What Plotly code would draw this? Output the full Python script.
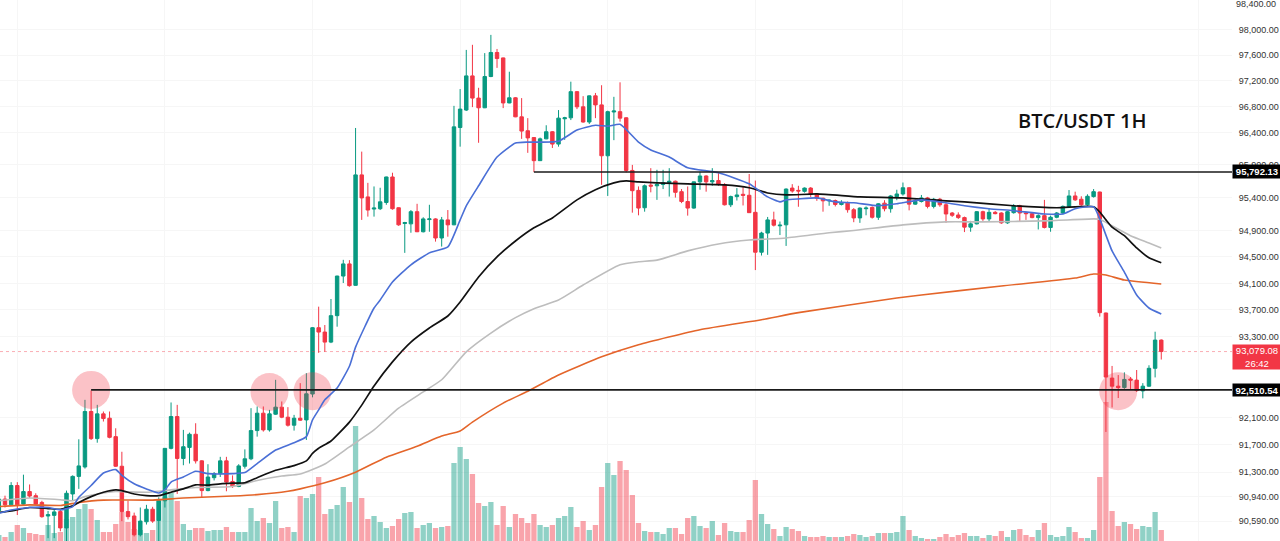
import math
import plotly.graph_objects as go

opens = [90737,90909,90825,91106,90835,91018,90958,90860,90663,90672,90727,90490,90983,91239,91377,92191,91792,92156,92092,91821,
91387,90727,90663,90391,90579,90761,90599,90884,91649,92117,91501,91663,91856,91466,91032,91220,91279,91466,91165,91091,
91387,91496,91910,92166,91920,92151,92255,92107,91989,92092,92067,92449,93435,93370,93220,93615,94210,94393,94070,95747,
95410,95225,95230,95325,95715,95245,95005,95000,95185,94880,95065,95075,94785,95060,94985,96475,96745,97275,96930,96780,
97265,97640,97555,96855,96935,96640,96425,96320,95965,96300,96410,96220,96610,96625,97030,96795,96560,96965,96825,96040,
96715,96720,96625,95815,95510,95245,95590,95580,95600,95630,95650,95490,95340,95240,95640,95730,95640,95660,95600,95290,
95415,95450,95435,95175,94570,94860,95060,94970,94985,95545,95510,95495,95545,95455,95390,95350,95355,95295,95315,95215,
95090,95230,95250,95100,95315,95230,95415,95455,95550,95300,95340,95395,95265,95375,95290,95165,95135,95095,94950,95000,
95185,95075,95175,95165,95015,95170,95275,95165,95155,95095,95125,94945,95100,95165,95265,95425,95375,95290,95415,95485,
93655,92685,92565,92545,92670,92655,92495,92565,92830,93250]
highs = [90934,90958,91155,91155,91264,91121,90993,90884,90736,90761,90761,91032,91254,91782,92363,92501,92289,92191,92191,91944,
91599,90884,90712,90786,90825,90796,90934,91649,92324,92289,91920,91880,92018,91476,91417,91303,91525,91525,91254,91417,
91634,92240,92265,92265,92215,92659,92339,92255,92141,92610,92758,93445,93750,93475,93865,94215,94455,94450,96468,96104,
95625,95570,95550,95720,95780,95250,95030,95210,95305,95100,95290,95085,95105,95210,96810,97070,97680,97760,97090,97630,
97915,97695,97560,97340,96945,96930,96620,96325,96320,96510,96420,96745,96640,97185,97040,96960,96970,97010,97130,96735,
96950,97175,96635,95900,95570,95600,95850,95825,95825,95850,95660,95530,95570,95645,95795,95740,95850,95775,95620,95430,
95545,95560,95760,95660,94880,95105,95185,95035,95540,95605,95580,95555,95560,95470,95400,95370,95370,95360,95340,95240,
95250,95265,95265,95315,95360,95440,95520,95630,95560,95370,95440,95410,95395,95395,95315,95180,95175,95110,95045,95195,
95200,95235,95195,95175,95195,95300,95290,95185,95180,95145,95365,95125,95180,95280,95515,95490,95420,95450,95530,95490,
93660,92865,92730,92770,92700,92805,92610,92875,93375,93260]
lows = [90712,90786,90810,90677,90825,90924,90820,90638,90342,90342,90441,90293,90884,91057,91353,91772,91732,92043,91796,91377,
90589,90613,90367,90367,90539,90564,90293,90786,91634,90983,91402,91427,91427,90934,91022,91180,91230,91022,91072,91082,
91353,91476,91821,91895,91895,92141,92092,91969,91910,92053,91772,92400,93060,93075,93205,93450,94105,94050,94065,95060,
95110,95110,95210,95290,95215,94970,94560,94865,94875,94870,94880,94730,94655,94805,94980,96180,96730,96790,96240,96775,
97255,97400,96775,96850,96635,96300,96085,95790,95960,96295,96160,96180,96285,96590,96760,96550,96530,96620,95595,95425,
96280,96565,95785,95170,95130,95185,95480,95365,95530,95415,95400,95315,95125,95230,95520,95490,95580,95580,95280,95255,
95355,95280,95165,94300,94520,94530,94960,94830,94665,95475,95260,95475,95410,95350,95185,95275,95265,95280,95170,95025,
95015,95130,95080,95060,95190,95170,95360,95430,95205,95290,95325,95235,95235,95260,95015,95105,95075,94875,94880,94990,
95045,95030,95145,95000,95000,95155,95035,95060,95085,94915,94930,94880,95085,95145,95250,95350,95275,95275,95400,93600,
91890,92250,92390,92525,92510,92480,92385,92555,92695,92960]
closes = [90909,90825,91106,90825,91018,90953,90835,90653,90682,90722,90490,90993,91239,91392,92191,91792,92156,92087,91811,91387,
90727,90653,90391,90589,90761,90589,90884,91649,92117,91501,91673,91856,91466,91032,91230,91279,91466,91156,91091,91392,
91496,91910,92166,91920,92156,92255,92107,91989,92092,92063,92452,93435,93370,93220,93615,94210,94393,94065,95747,95395,
95210,95240,95335,95715,95230,94985,95020,95185,94880,95075,95075,94785,95060,94985,96485,96760,97275,96930,96780,97265,
97640,97545,96855,96935,96640,96420,96315,95965,96300,96410,96220,96620,96625,97030,96795,96560,96965,96825,96040,96720,
96730,96620,95815,95505,95240,95580,95575,95600,95625,95650,95480,95340,95240,95640,95730,95640,95660,95600,95290,95415,
95440,95435,95170,94570,94860,95060,94980,94980,95530,95500,95500,95545,95455,95390,95350,95360,95295,95315,95215,95090,
95240,95240,95100,95305,95230,95425,95455,95550,95300,95340,95395,95265,95375,95290,95150,95130,95095,94950,95000,95185,
95075,95175,95155,95015,95185,95275,95165,95155,95095,95125,94945,95100,95165,95265,95425,95365,95290,95420,95490,93660,
92700,92565,92545,92665,92655,92500,92565,92830,93250,93079.08]
volumes = [6,4,9,16,13,8,7,6,16,8,9,22,24,32,37,32,21,9,9,17,
29,19,12,11,8,11,41,44,48,40,17,11,13,13,10,11,11,14,9,9,
9,33,20,23,18,40,13,14,9,45,43,47,64,27,32,36,54,39,115,43,
22,25,19,13,15,22,28,29,13,16,18,13,14,15,78,94,82,67,38,35,
39,16,35,14,27,23,18,27,16,14,16,23,25,34,14,20,11,16,54,78,
66,80,71,46,18,10,9,9,7,13,13,7,23,25,15,13,20,6,18,10,
9,9,21,61,27,17,12,5,14,12,10,5,4,4,5,4,4,4,5,7,
6,4,5,8,8,8,9,25,11,5,3,2,2,4,7,4,6,8,5,5,
3,6,5,10,4,11,12,6,4,11,18,6,4,5,14,9,3,3,11,64,
139,30,15,19,17,12,15,14,29,11]

blue_idx = [0,2,5,8,10,12,13,15,17,19,20,22,24,26,27,28,30,32,34,38,40,42,45,48,50,51,52,53,55,57,58,61,62,64,67,70,73,75,76,78,81,84,86,88,91,94,97,99,101,104,106,109,112,117,122,125,127,128,130,133,136,139,143,146,150,154,157,161,165,170,173,175,178,179,181,183,185,187,189]
blue_val = [90702,90751,90786,90786,90751,90800,90934,91106,91289,91338,91254,91131,91057,90998,91042,91156,91230,91313,91279,91279,91294,91427,91624,91732,91821,92068,92215,92363,92537,92860,93145,93730,93850,94120,94380,94560,94650,95060,95275,95580,96020,96235,96250,96250,96265,96435,96510,96495,96525,96250,96130,96020,95855,95780,95610,95410,95335,95365,95380,95395,95335,95320,95275,95305,95365,95320,95275,95230,95200,95150,95150,95230,95260,95075,94590,94270,93925,93730,93640]
black_idx = [0,2,5,8,10,12,13,15,17,19,20,22,24,26,27,28,30,32,34,36,38,40,42,45,48,50,51,52,54,57,59,61,64,67,70,73,75,78,81,84,87,90,94,97,100,102,104,107,112,118,122,125,128,133,140,147,154,157,165,172,178,179,180,181,183,185,187,189]
black_val = [90712,90737,90786,90771,90761,90810,90860,90944,91008,91042,91032,90983,90958,90958,90983,91008,91057,91116,91111,91131,91141,91146,91220,91328,91397,91466,91575,91650,91757,92035,92285,92567,92925,93220,93430,93610,93820,94197,94500,94740,94940,95090,95365,95520,95625,95655,95640,95625,95610,95595,95550,95470,95440,95455,95410,95395,95350,95335,95275,95245,95260,95180,95060,94950,94820,94635,94485,94410]
grey_idx = [0,5,10,12,14,17,19,24,28,32,38,42,46,49,53,57,61,65,69,72,76,80,84,87,91,95,101,104,107,112,117,122,128,135,139,147,154,160,170,178,179,181,184,187,189]
grey_val = [90884,90924,90899,90884,90944,90998,91018,91008,91042,91077,91091,91180,91244,91275,91420,91670,91920,92240,92480,92660,93075,93355,93585,93720,93850,94075,94380,94425,94450,94590,94695,94755,94785,94865,94898,94985,95030,95030,95045,95075,95070,94970,94820,94710,94635]
orange_idx = [0,5,10,13,17,25,30,38,42,47,49,53,58,63,68,72,75,77,82,86,91,98,104,114,124,130,146,150,163,175,178,180,183,189]
orange_val = [90800,90825,90815,90860,90894,90894,90924,90953,90973,91022,91057,91145,91300,91520,91680,91830,91905,92035,92315,92490,92730,93000,93180,93405,93555,93660,93880,93925,94060,94180,94240,94225,94150,94090]

tick_vals = [98000,97600,97200,96800,96400,95900,95400,94900,94500,94100,93700,93300,92100,91700,91300,90940,90590]
tick_text = ["98,000.00","97,600.00","97,200.00","96,800.00","96,400.00","95,900.00","95,400.00","94,900.00","94,500.00","94,100.00","93,700.00","93,300.00","92,100.00","91,700.00","91,300.00","90,940.00","90,590.00"]
top_tick = 98400
top_tick_text = "98,400.00"
grid_idx = [3,27,51,75,99,123,147,171,195]
level_low = 92510.54
level_high = 95792.13
last_price = 93079.08
low_start, high_start = 15, 87
marked_idx = [15, 44, 51, 182]
marked_price = [92510, 92480, 92490, 92490]

GREEN, RED = "#089981", "#f23645"
X_MIN, X_MAX = 0.187, 200.5
P_MIN, P_MAX = 90301, 98463
idx = list(range(len(opens)))
vol_colors = ["rgba(8,153,129,0.45)" if c >= o else "rgba(242,54,69,0.45)" for o, c in zip(opens, closes)]

fig = go.Figure()
fig.add_bar(x=idx, y=volumes, marker=dict(color=vol_colors, line_width=0), yaxis="y", showlegend=False)
fig.add_candlestick(x=idx, open=opens, high=highs, low=lows, close=closes, yaxis="y2", whiskerwidth=0,
                    increasing=dict(line=dict(color=GREEN, width=1), fillcolor=GREEN),
                    decreasing=dict(line=dict(color=RED, width=1), fillcolor=RED), showlegend=False)
fig.add_scatter(x=marked_idx, y=marked_price, mode="markers", yaxis="y2", showlegend=False,
                marker=dict(symbol="circle", size=38, color="rgba(242,54,69,0.3)", line_width=0))
for xs, ys, col, w in [(grey_idx, grey_val, "#bdbdbd", 1.6), (orange_idx, orange_val, "#e4652a", 1.6),
                       (black_idx, black_val, "#111111", 1.7), (blue_idx, blue_val, "#4a6fd6", 1.6)]:
    fig.add_scatter(x=xs, y=ys, mode="lines", yaxis="y2", line=dict(color=col, width=w, shape="spline", smoothing=0.5), showlegend=False)
fig.add_scatter(x=[X_MIN, X_MAX], y=[last_price, last_price], mode="lines", yaxis="y2",
                line=dict(color="rgba(242,54,69,0.4)", width=1, dash="dot"), showlegend=False)
for start, lv in [(low_start, level_low), (high_start, level_high)]:
    fig.add_scatter(x=[start, X_MAX], y=[lv, lv], mode="lines", yaxis="y2", line=dict(color="#1a1a1a", width=1.6), showlegend=False)

def tag(price, text, bg, h, shift=0):
    return dict(xref="paper", yref="y2", x=1, y=math.log10(price), xanchor="left", yanchor="middle", yshift=shift,
                text=text, showarrow=False, bgcolor=bg, width=48, height=h, borderpad=0, align="center",
                font=dict(family="Liberation Sans", size=9.5, color="#ffffff"))

annotations = [tag(level_high, "<b>95,792.13</b>", "#000000", 12.5), tag(level_low, "<b>92,510.54</b>", "#000000", 12),
               tag(last_price, "93,079.08<br>26:42", RED, 24, -5),
               dict(xref="paper", yref="y2", x=1, y=math.log10(top_tick), xanchor="left", yanchor="middle", xshift=3,
                    text=top_tick_text, showarrow=False, borderpad=0,
                    font=dict(family="Liberation Sans", size=9, color="#333333")),
               dict(xref="paper", yref="paper", x=1082/1232, y=1-121/541, text="BTC/USDT 1H", showarrow=False,
                    xanchor="center", yanchor="middle", font=dict(family="Open Sans", size=20, color="#111111", weight=600))]

fig.update_layout(
    width=1280, height=541, autosize=False, margin=dict(l=0, r=48, t=0, b=0, pad=0),
    paper_bgcolor="#ffffff", plot_bgcolor="#ffffff", bargap=0.14, boxgap=0.2, showlegend=False, dragmode=False,
    xaxis=dict(range=[X_MIN, X_MAX], tickmode="array", tickvals=grid_idx, showticklabels=False, ticks="", showgrid=True,
               gridcolor="#f6f6f6", gridwidth=1, zeroline=False, showline=False, rangeslider=dict(visible=False)),
    yaxis=dict(range=[0, 541], visible=False, showgrid=False, fixedrange=True),
    yaxis2=dict(type="log", range=[math.log10(P_MIN), math.log10(P_MAX)], overlaying="y", side="right",
                tickmode="array", tickvals=tick_vals, ticktext=tick_text, ticks="outside", ticklen=4, tickcolor="rgba(0,0,0,0)",
                tickfont=dict(family="Liberation Sans", size=9, color="#333333"), showgrid=True, gridcolor="#f6f6f6",
                zeroline=False, showline=False),
    annotations=annotations,
)
fig.write_html("out.html", config={"displayModeBar": False}, post_script="document.body.style.margin='0';")
